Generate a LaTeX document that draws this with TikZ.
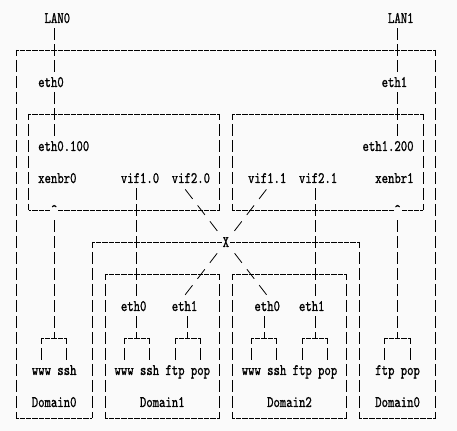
\documentclass[tikz,border=0pt]{standalone}
\usepackage{fontspec}
\newfontfamily\asciifont[FakeStretch=0.76,FakeBold=1]{lmmono10-regular.otf}
\usetikzlibrary{calc}
\definecolor{paper}{RGB}{250,250,250}
\tikzset{
    x=6.36pt, y=-16pt, % one character cell: columns go right, rows go down
    hbar/.style={draw, line width=.8pt, dash pattern=on 5.34pt off 1.02pt, dash phase=2.67pt}, % a row of '-'
    vbar/.style={draw, line width=.8pt, dash pattern=on 12pt off 4pt, dash phase=6pt}, % a column of '|', from a row centre
    vlink/.style={vbar, dash phase=12pt}, % a column of '|', from the edge of a label
    slant/.style={draw, line width=.8pt, dash pattern=on 12pt off 8.17pt, dash phase=13.57pt}, % the '\' and '/'
    lbl/.style={inner sep=0pt, text height=11pt, text depth=1pt, font=\asciifont\fontsize{16}{16}\selectfont},
    glyph/.style={lbl, fill=paper, minimum width=8pt}, % a sign set into a line
    }
\begin{document}
\begin{tikzpicture}
    \fill[paper] (-2.516,-1.125) rectangle (69.34,25.8125);
    \useasboundingbox (-2.516,-1.125) rectangle (69.34,25.8125);
    % frames
    \draw[hbar] (0,2) -- (66,2);
    \draw[vbar] (0,2) -- (0,25);
    \draw[vbar] (66,2) -- (66,25);
    \draw[hbar] (2,6) -- (32,6);
    \draw[hbar] (2,12) -- (32,12);
    \draw[vbar] (2,6) -- (2,12);
    \draw[vbar] (32,6) -- (32,12);
    \draw[hbar] (34,6) -- (64,6);
    \draw[hbar] (34,12) -- (64,12);
    \draw[vbar] (34,6) -- (34,12);
    \draw[vbar] (64,6) -- (64,12);
    \draw[hbar] (12,14) -- (54,14);
    \draw[vbar] (12,14) -- (12,25);
    \draw[vbar] (54,14) -- (54,25);
    \draw[hbar] (14,16) -- (32,16);
    \draw[vbar] (14,16) -- (14,25);
    \draw[vbar] (32,16) -- (32,25);
    \draw[hbar] (34,16) -- (52,16);
    \draw[vbar] (34,16) -- (34,25);
    \draw[vbar] (52,16) -- (52,25);
    \draw[hbar] (0,25) -- (12,25);
    \draw[hbar] (14,25) -- (32,25);
    \draw[hbar] (34,25) -- (52,25);
    \draw[hbar] (54,25) -- (66,25);

    % labels
    \node[lbl] (lan0) at (6.5,0) {LAN0};
    \node[lbl] (lan1) at (60.5,0) {LAN1};
    \node[lbl] (eth0) at (5.5,4) {eth0};
    \node[lbl] (eth1) at (59.5,4) {eth1};
    \node[lbl] (eth0100) at (7.5,8) {eth0.100};
    \node[lbl] (eth1200) at (58.5,8) {eth1.200};
    \node[lbl] (xenbr0) at (6.5,10) {xenbr0};
    \node[lbl] (vif10) at (19.5,10) {vif1.0};
    \node[lbl] (vif20) at (27.5,10) {vif2.0};
    \node[lbl] (vif11) at (39.5,10) {vif1.1};
    \node[lbl] (vif21) at (47.5,10) {vif2.1};
    \node[lbl] (xenbr1) at (59.5,10) {xenbr1};
    \node[glyph] (br0) at (6,12) {\textasciicircum};
    \node[glyph] (br1) at (60,12) {\textasciicircum};
    \node[lbl] (d1eth0) at (18.5,18) {eth0};
    \node[lbl] (d1eth1) at (26.5,18) {eth1};
    \node[lbl] (d2eth0) at (39.5,18) {eth0};
    \node[lbl] (d2eth1) at (46.5,18) {eth1};
    \node[lbl] (www0) at (4,22) {www};
    \node[lbl] (ssh0) at (8,22) {ssh};
    \node[lbl] (www1) at (17,22) {www};
    \node[lbl] (ssh1) at (21,22) {ssh};
    \node[lbl] (ftp1) at (25,22) {ftp};
    \node[lbl] (pop1) at (29,22) {pop};
    \node[lbl] (www2) at (37,22) {www};
    \node[lbl] (ssh2) at (41,22) {ssh};
    \node[lbl] (ftp2) at (45,22) {ftp};
    \node[lbl] (pop2) at (49,22) {pop};
    \node[lbl] (ftp3) at (58,22) {ftp};
    \node[lbl] (pop3) at (62,22) {pop};
    \node[lbl] (dom0a) at (6,24) {Domain0};
    \node[lbl] (dom1) at (23,24) {Domain1};
    \node[lbl] (dom2) at (43,24) {Domain2};
    \node[lbl] (dom0b) at (60,24) {Domain0};

    % taps of the interfaces
    \coordinate (b0) at (6,20);
    \coordinate (b1) at (19,20);
    \coordinate (b2) at (27,20);
    \coordinate (b3) at (39,20);
    \coordinate (b4) at (47,20);
    \coordinate (b5) at (60,20);
    \coordinate (hub) at (33,14);

    % links
    \draw[vlink] (lan0.south -| b0) -- (eth0.north -| b0);
    \draw[vlink] (eth0.south -| b0) -- (eth0100.north -| b0);
    \draw[vlink] (lan1.south -| b5) -- (eth1.north -| b5);
    \draw[vlink] (eth1.south -| b5) -- (eth1200.north -| b5);
    \draw[vlink] (br0.south) -- (b0);
    \draw[vlink] (br1.south) -- (b5);
    \draw[vlink] (vif10.south -| b1) -- (d1eth0.north -| b1);
    \draw[vlink] (d1eth0.south -| b1) -- (b1);
    \draw[vlink] (vif21.south -| b4) -- (d2eth1.north -| b4);
    \draw[vlink] (d2eth1.south -| b4) -- (b4);
    \draw[vlink] (d1eth1.south -| b2) -- (b2);
    \draw[vlink] (d2eth0.south -| b3) -- (b3);
    \draw[slant] ($(vif20.south west)!.25!(vif20.south east)$) -- (hub) -- ($(d2eth0.north west)!.625!(d2eth0.north east)$);
    \draw[slant] ($(vif11.south west)!.5833!(vif11.south east)$) -- (hub) -- ($(d1eth1.north west)!.375!(d1eth1.north east)$);
    \node[glyph] (cross) at (hub) {X};

    \draw[hbar] (www0.north |- b0) -- (ssh0.north |- b0);
    \draw[vbar] (www0.north |- b0) -- (www0.north);
    \draw[vbar] (ssh0.north |- b0) -- (ssh0.north);
    \draw[hbar] (www1.north |- b1) -- (ssh1.north |- b1);
    \draw[vbar] (www1.north |- b1) -- (www1.north);
    \draw[vbar] (ssh1.north |- b1) -- (ssh1.north);
    \draw[hbar] (ftp1.north |- b2) -- (pop1.north |- b2);
    \draw[vbar] (ftp1.north |- b2) -- (ftp1.north);
    \draw[vbar] (pop1.north |- b2) -- (pop1.north);
    \draw[hbar] (www2.north |- b3) -- (ssh2.north |- b3);
    \draw[vbar] (www2.north |- b3) -- (www2.north);
    \draw[vbar] (ssh2.north |- b3) -- (ssh2.north);
    \draw[hbar] (ftp2.north |- b4) -- (pop2.north |- b4);
    \draw[vbar] (ftp2.north |- b4) -- (ftp2.north);
    \draw[vbar] (pop2.north |- b4) -- (pop2.north);
    \draw[hbar] (ftp3.north |- b5) -- (pop3.north |- b5);
    \draw[vbar] (ftp3.north |- b5) -- (ftp3.north);
    \draw[vbar] (pop3.north |- b5) -- (pop3.north);
\end{tikzpicture}
\end{document}
